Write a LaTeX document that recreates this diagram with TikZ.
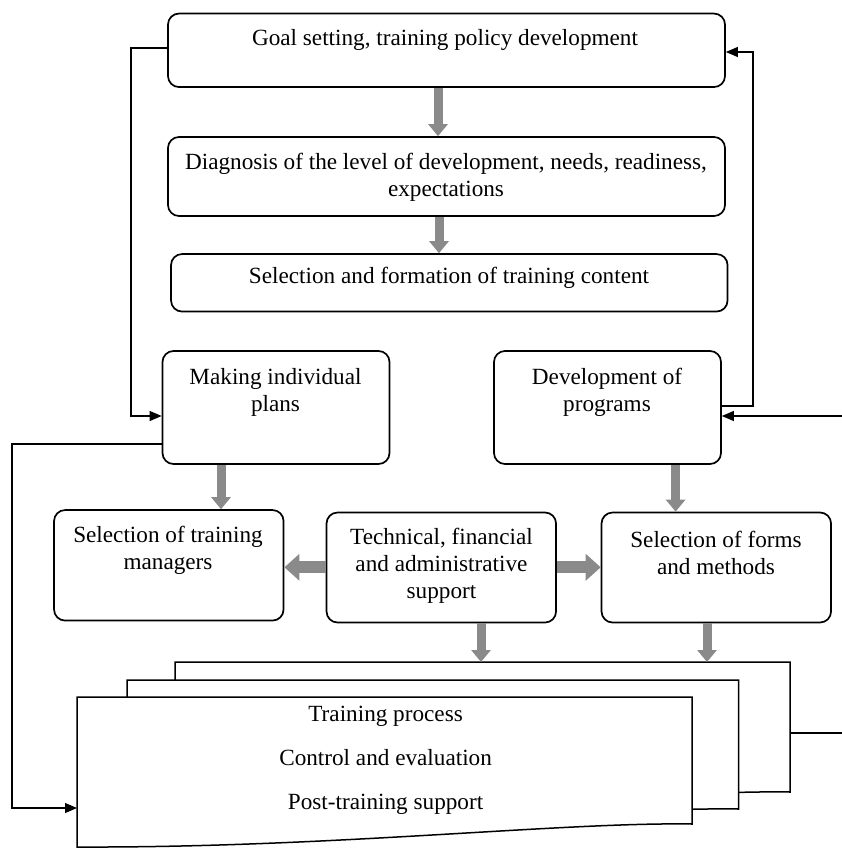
\documentclass[tikz,border=0pt]{standalone}
\usepackage{fontspec}
\setmainfont{Liberation Serif}
\usetikzlibrary{arrows.meta}
\definecolor{arrgray}{RGB}{138,138,138}
\begin{document}
\begin{tikzpicture}[x=1pt,y=-1pt,
  box/.style={draw, line width=1.7pt, rounded corners=11pt, inner sep=0pt, fill=white},
  txt/.style={align=center, inner sep=0pt, font=\fontsize{23.2}{27}\selectfont},
  conn/.style={line width=1.1pt, -{Triangle[length=12pt,width=10pt]}},
  plainline/.style={line width=1.1pt},
  varrow/.style={draw=arrgray, line width=9pt, -{Triangle[length=12pt,width=19pt]}},
  harrow/.style={draw=arrgray, line width=12pt, -{Triangle[length=15pt,width=26pt]}},
  docshape/.style={draw, line width=1.5pt, fill=white, line join=miter}
]
\useasboundingbox (0,0) rectangle (842,849);

% documents (stack)
\draw[docshape] (175,662) -- (790,662) -- (790,792) .. controls (658,790) and (428,816) .. (175,815) -- cycle;
\draw[docshape] (127,680) -- (738.5,680) -- (738.5,809) .. controls (606,807) and (376,833) .. (127,832) -- cycle;
\draw[docshape] (77,697) -- (692,697) -- (692,824) .. controls (560,822) and (330,848) .. (77,847) -- cycle;
\node[txt, font=\fontsize{23.2}{44}\selectfont] (dt) at (385.6,760.5) {Training process\\Control and evaluation\\Post-training support};

% boxes
\node[box, minimum width=557pt, minimum height=73.5pt] (b1) at (446.5,50.3) {};
\node[txt] (t1) at (445,40) {Goal setting, training policy development};
\node[box, minimum width=557pt, minimum height=79pt] (b2) at (446.5,176.5) {};
\node[txt] (t2) at (446,177.5) {Diagnosis of the level of development, needs, readiness,\\expectations};
\node[box, minimum width=556.5pt, minimum height=57.5pt] (b3) at (449.3,282.8) {};
\node[txt] (t3) at (449,278) {Selection and formation of training content};
\node[box, minimum width=227pt, minimum height=113pt] (b4) at (276,407.5) {};
\node[txt] (t4) at (275.5,392) {Making individual\\plans};
\node[box, minimum width=227pt, minimum height=113pt] (b5) at (607.5,407.5) {};
\node[txt] (t5) at (607,392) {Development of\\programs};
\node[box, minimum width=229.5pt, minimum height=110.5pt] (b6) at (168.8,565.3) {};
\node[txt] (t6) at (168,550.5) {Selection of training\\managers};
\node[box, minimum width=229.5pt, minimum height=110pt] (b7) at (441.3,567.5) {};
\node[txt] (t7) at (441.5,566) {Technical, financial\\and administrative\\support};
\node[box, minimum width=229.5pt, minimum height=110pt] (b8) at (716.3,567.5) {};
\node[txt] (t8) at (716,552.5) {Selection of forms\\and methods};

% helper coordinates
\coordinate (ga1) at (438,0);
\coordinate (ga2) at (439,0);
\coordinate (ga3) at (221,0);
\coordinate (ga4) at (675.6,0);
\coordinate (ga5) at (481,0);
\coordinate (ga6) at (707,0);
\coordinate (d3top) at (0,662);
\coordinate (hy) at (0,567.3);
\coordinate (c1a) at (131,48);
\coordinate (c1b) at (131,416);
\coordinate (c2a) at (12,444);
\coordinate (c2b) at (12,808);
\coordinate (d1w) at (77,808);
\coordinate (c3a) at (753,406);
\coordinate (c3b) at (753,52);
\coordinate (rin) at (842,416);
\coordinate (d3e) at (790,733);
\coordinate (rout) at (842,733);

% gray block arrows
\draw[varrow] (b1.south -| ga1) -- (b2.north -| ga1);
\draw[varrow] (b2.south -| ga2) -- (b3.north -| ga2);
\draw[varrow] (b4.south -| ga3) -- (b6.north -| ga3);
\draw[varrow] (b5.south -| ga4) -- (b8.north -| ga4);
\draw[harrow] (b7.west |- hy) -- (b6.east |- hy);
\draw[harrow] (b7.east |- hy) -- (b8.west |- hy);
\draw[varrow] (b7.south -| ga5) -- (ga5 |- d3top);
\draw[varrow] (b8.south -| ga6) -- (ga6 |- d3top);

% thin connectors
\draw[conn] (b1.west |- c1a) -- (c1a) -- (c1b) -- (b4.west |- c1b);
\draw[conn] (b4.west |- c2a) -- (c2a) -- (c2b) -- (d1w);
\draw[conn] (b5.east |- c3a) -- (c3a) -- (c3b) -- (b1.east |- c3b);
\draw[conn] (rin) -- (b5.east |- rin);
\draw[plainline] (d3e) -- (rout);
\end{tikzpicture}
\end{document}
